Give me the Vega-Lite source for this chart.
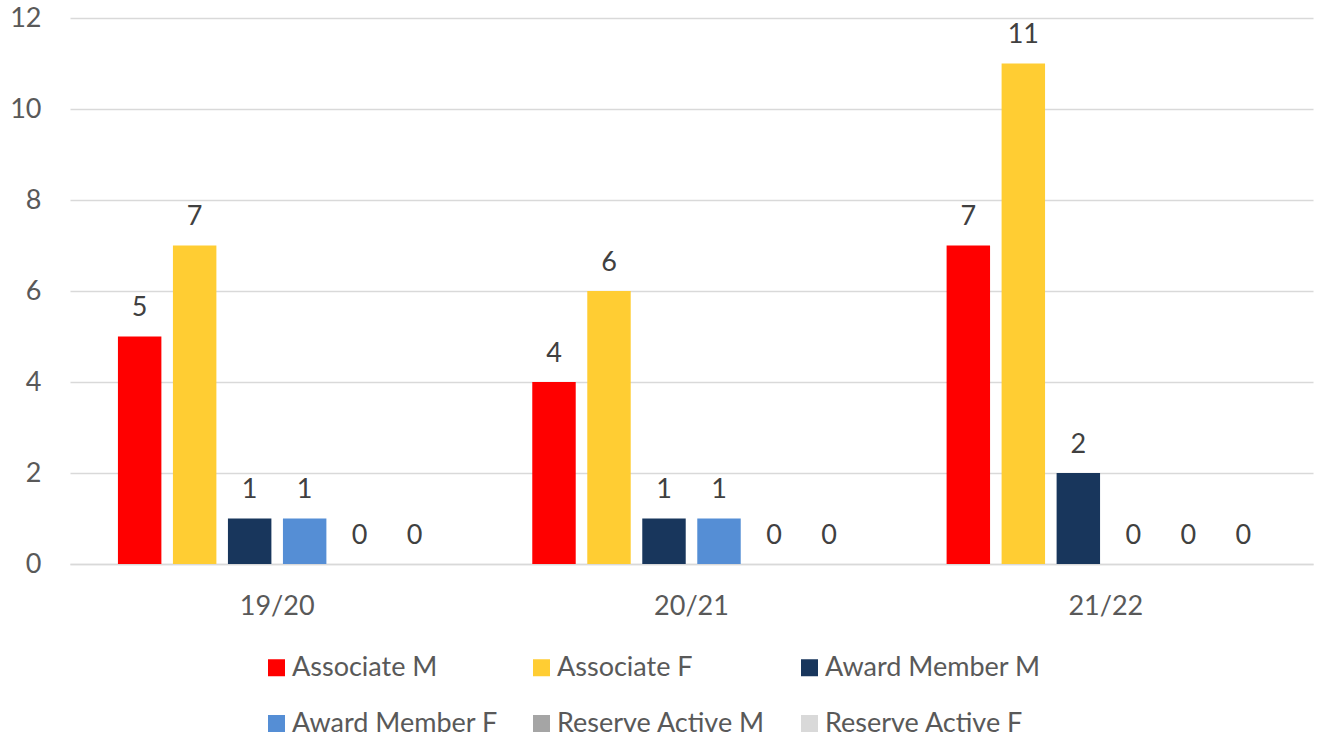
{
  "$schema": "https://vega.github.io/schema/vega-lite/v6.json",
  "width": 1243,
  "height": 546,
  "autosize": {"type": "none"},
  "padding": {"left": 70, "top": 18, "right": 9, "bottom": 177},
  "background": "white",
  "config": {"view": {"stroke": null}, "font": "Lato"},
  "data": {
    "values": [
      {"year": "19/20", "series": "Associate M", "value": 5},
      {"year": "19/20", "series": "Associate F", "value": 7},
      {"year": "19/20", "series": "Award Member M", "value": 1},
      {"year": "19/20", "series": "Award Member F", "value": 1},
      {"year": "19/20", "series": "Reserve Active M", "value": 0},
      {"year": "19/20", "series": "Reserve Active F", "value": 0},
      {"year": "20/21", "series": "Associate M", "value": 4},
      {"year": "20/21", "series": "Associate F", "value": 6},
      {"year": "20/21", "series": "Award Member M", "value": 1},
      {"year": "20/21", "series": "Award Member F", "value": 1},
      {"year": "20/21", "series": "Reserve Active M", "value": 0},
      {"year": "20/21", "series": "Reserve Active F", "value": 0},
      {"year": "21/22", "series": "Associate M", "value": 7},
      {"year": "21/22", "series": "Associate F", "value": 11},
      {"year": "21/22", "series": "Award Member M", "value": 2},
      {"year": "21/22", "series": "Award Member F", "value": 0},
      {"year": "21/22", "series": "Reserve Active M", "value": 0},
      {"year": "21/22", "series": "Reserve Active F", "value": 0}
    ]
  },
  "encoding": {
    "x": {
      "field": "year",
      "type": "nominal",
      "sort": ["19/20", "20/21", "21/22"],
      "scale": {"paddingInner": 0.2035, "paddingOuter": 0.10175},
      "axis": {
        "title": null,
        "labelAngle": 0,
        "ticks": false,
        "tickSize": 0,
        "domain": true,
        "domainColor": "#d9d9d9",
        "domainWidth": 1.5,
        "labelFontSize": 27,
        "labelColor": "#595959",
        "labelPadding": 50,
        "labelBaseline": "alphabetic"
      }
    },
    "xOffset": {
      "field": "series",
      "type": "nominal",
      "sort": ["Associate M", "Associate F", "Award Member M", "Award Member F", "Reserve Active M", "Reserve Active F"],
      "scale": {"paddingInner": 0.21, "paddingOuter": 0.105}
    },
    "y": {
      "field": "value",
      "type": "quantitative",
      "scale": {"domain": [0, 12], "nice": false},
      "axis": {
        "title": null,
        "values": [0, 2, 4, 6, 8, 10, 12],
        "ticks": false,
        "tickSize": 0,
        "domain": false,
        "grid": true,
        "gridColor": "#d9d9d9",
        "gridWidth": 1.5,
        "labelFontSize": 27,
        "labelColor": "#595959",
        "labelPadding": 29
      }
    }
  },
  "layer": [
    {
      "mark": {"type": "bar"},
      "encoding": {
        "color": {
          "field": "series",
          "type": "nominal",
          "sort": ["Associate M", "Associate F", "Award Member M", "Award Member F", "Reserve Active M", "Reserve Active F"],
          "scale": {
            "domain": ["Associate M", "Associate F", "Award Member M", "Award Member F", "Reserve Active M", "Reserve Active F"],
            "range": ["#FF0000", "#FFCD33", "#18365C", "#558ED5", "#A5A5A5", "#D9D9D9"]
          },
          "legend": {
            "title": null,
            "orient": "none",
            "legendX": 193,
            "legendY": 636,
            "direction": "horizontal",
            "columns": 3,
            "symbolType": "square",
            "symbolSize": 289,
            "symbolStrokeWidth": 0,
            "labelFontSize": 27,
            "labelColor": "#595959",
            "labelOffset": 2,
            "labelLimit": 400,
            "columnPadding": 30,
            "rowPadding": 28,
            "padding": 0
          }
        }
      }
    },
    {
      "mark": {"type": "text", "baseline": "alphabetic", "dy": -20.5, "fontSize": 27, "color": "#404040"},
      "encoding": {"text": {"field": "value", "type": "quantitative"}}
    }
  ]
}
